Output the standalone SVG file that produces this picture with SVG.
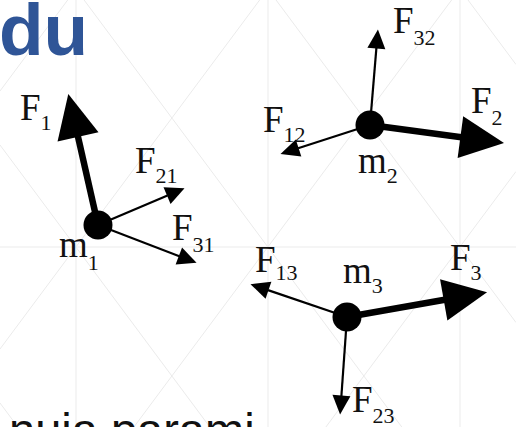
<svg xmlns="http://www.w3.org/2000/svg" width="516" height="427" viewBox="0 0 516 427">
  <style>
    .grid line { stroke: #ebebeb; stroke-width: 1; }
    .lbl { font-family: "Liberation Serif", "Times New Roman", serif; font-size: 37px; fill: #111; }
    .sub { font-size: 22px; }
    .thin { stroke: #000; stroke-width: 2.2; fill: none; marker-end: url(#headThin); }
    .thick { stroke: #000; stroke-width: 6.5; fill: none; marker-end: url(#headThick); }
    .mass { fill: #000; }
  </style>
  <defs>
    <marker id="headThin" markerUnits="userSpaceOnUse" viewBox="0 0 19 18" markerWidth="19" markerHeight="18" refX="0.5" refY="9" orient="auto" overflow="visible">
      <path d="M0,0 L19,9 L0,18 Z" fill="#000"/>
    </marker>
    <marker id="headThick" markerUnits="userSpaceOnUse" viewBox="0 0 44 42" markerWidth="44" markerHeight="42" refX="1" refY="21" orient="auto" overflow="visible">
      <path d="M0,0 L44,21 L0,42 Z" fill="#000"/>
    </marker>
  </defs>
  <rect width="516" height="427" fill="#fff"/>
  <g id="background" class="grid">
    <line x1="76" y1="0" x2="76" y2="427"/>
    <line x1="268" y1="0" x2="268" y2="427"/>
    <line x1="460" y1="0" x2="460" y2="427"/>
    <line x1="0" y1="247" x2="516" y2="247"/>
    <line x1="0" y1="403" x2="516" y2="1096.5"/>
    <line x1="0" y1="145" x2="516" y2="838.5"/>
    <line x1="0" y1="-113" x2="516" y2="580.5"/>
    <line x1="0" y1="-371" x2="516" y2="322.5"/>
    <line x1="0" y1="-629" x2="516" y2="64.5"/>
    <line x1="0" y1="91" x2="516" y2="-602.5"/>
    <line x1="0" y1="349" x2="516" y2="-344.5"/>
    <line x1="0" y1="607" x2="516" y2="-86.5"/>
    <line x1="0" y1="865" x2="516" y2="171.5"/>
  </g>
  <text x="-1" y="55" font-family="'Liberation Sans', Arial, sans-serif" font-weight="bold" font-size="73" fill="#2F5597">du</text>
  <text x="9" y="446" font-family="'Liberation Sans', Arial, sans-serif" font-size="47" fill="#111">nuia parami</text>
  <g id="connectors">
    <g id="F1">
      <line class="thick" x1="98" y1="225" x2="77.8" y2="135.9"/>
      <text class="lbl" x="20" y="120">F<tspan class="sub" dy="10">1</tspan></text>
    </g>
    <g id="F21">
      <line class="thin" x1="98" y1="225" x2="167.5" y2="195.4"/>
      <text class="lbl" x="135" y="173">F<tspan class="sub" dy="10">21</tspan></text>
    </g>
    <g id="F31">
      <line class="thin" x1="98" y1="225" x2="179.3" y2="256.2"/>
      <text class="lbl" x="172" y="240">F<tspan class="sub" dy="12">31</tspan></text>
    </g>
    <g id="F2">
      <line class="thick" x1="370" y1="125" x2="461.4" y2="137.2"/>
      <text class="lbl" x="471" y="113">F<tspan class="sub" dy="12">2</tspan></text>
    </g>
    <g id="F32">
      <line class="thin" x1="370" y1="125" x2="376.4" y2="47.9"/>
      <text class="lbl" x="393" y="33">F<tspan class="sub" dy="12">32</tspan></text>
    </g>
    <g id="F12">
      <line class="thin" x1="370" y1="125" x2="298.1" y2="148.2"/>
      <text class="lbl" x="263" y="132">F<tspan class="sub" dy="10">12</tspan></text>
    </g>
    <g id="F3">
      <line class="thick" x1="347" y1="317" x2="444.7" y2="299.7"/>
      <text class="lbl" x="450" y="270">F<tspan class="sub" dy="10">3</tspan></text>
    </g>
    <g id="F13">
      <line class="thin" x1="347" y1="317" x2="268" y2="290.1"/>
      <text class="lbl" x="255" y="272">F<tspan class="sub" dy="8">13</tspan></text>
    </g>
    <g id="F23">
      <line class="thin" x1="347" y1="317" x2="341.4" y2="396"/>
      <text class="lbl" x="352" y="412">F<tspan class="sub" dy="11">23</tspan></text>
    </g>
  </g>
  <g id="m1">
    <circle class="mass" cx="98" cy="225" r="14.5"/>
    <text class="lbl" x="59" y="257">m<tspan class="sub" dy="13">1</tspan></text>
  </g>
  <g id="m2">
    <circle class="mass" cx="370" cy="125" r="14.5"/>
    <text class="lbl" x="358" y="173">m<tspan class="sub" dy="10">2</tspan></text>
  </g>
  <g id="m3">
    <circle class="mass" cx="347" cy="317" r="14.5"/>
    <text class="lbl" x="343" y="283">m<tspan class="sub" dy="10">3</tspan></text>
  </g>
</svg>
